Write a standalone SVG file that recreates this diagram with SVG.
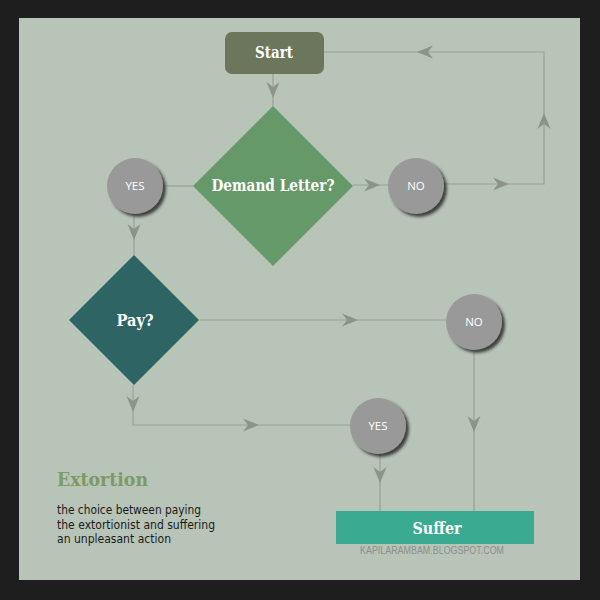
<svg xmlns="http://www.w3.org/2000/svg" xmlns:xlink="http://www.w3.org/1999/xlink" width="600" height="600" viewBox="0 0 600 600">
<style>
.ln{fill:none;stroke:#98a198;stroke-width:1.2}
.ah{fill:#8b938b}
.circ{fill:#999999;filter:url(#sh)}
.ct{font-family:"Open Sans","Liberation Sans",sans-serif;font-size:11.5px;fill:#ffffff;text-anchor:middle}
.bt{font-family:"DejaVu Serif","Liberation Serif",serif;font-weight:bold;fill:#ffffff;text-anchor:middle}
.desc{font-family:"DejaVu Sans","Liberation Sans",sans-serif;font-size:12px;fill:#1a1a1a}
</style>
<defs>
<filter id="sh" x="-30%" y="-30%" width="170%" height="170%">
<feDropShadow dx="3" dy="3" stdDeviation="1.8" flood-color="#2a2a2a" flood-opacity="0.85"/>
</filter>
<path id="arr" class="ah" d="M0,0 L-16,-6.5 L-11,0 L-16,6.5 Z"/>
</defs>
<rect x="0" y="0" width="600" height="600" fill="#1e1e1e"/>
<rect x="19" y="18" width="561" height="562" fill="#b8c4b8"/>
<g id="connectors">
<path class="ln" d="M273,74 V106"/>
<path class="ln" d="M163,186 H193"/>
<path class="ln" d="M353,185 H388"/>
<path class="ln" d="M444,184 H544 V52 H324"/>
<path class="ln" d="M134,214 V255"/>
<path class="ln" d="M200,320 H446"/>
<path class="ln" d="M474,350 V511"/>
<path class="ln" d="M133,385 V425 H350"/>
<path class="ln" d="M380,454 V511"/>
<use xlink:href="#arr" transform="translate(273,98) rotate(90)"/>
<use xlink:href="#arr" transform="translate(380,185)"/>
<use xlink:href="#arr" transform="translate(509,184)"/>
<use xlink:href="#arr" transform="translate(544,113) rotate(-90)"/>
<use xlink:href="#arr" transform="translate(417,52) rotate(180)"/>
<use xlink:href="#arr" transform="translate(134,240) rotate(90)"/>
<use xlink:href="#arr" transform="translate(358,320)"/>
<use xlink:href="#arr" transform="translate(474,432) rotate(90)"/>
<use xlink:href="#arr" transform="translate(133,412) rotate(90)"/>
<use xlink:href="#arr" transform="translate(259,425)"/>
<use xlink:href="#arr" transform="translate(380,483) rotate(90)"/>
</g>
<g id="start">
<rect x="225" y="32" width="99" height="42" rx="7" fill="#6b765d"/>
<text class="bt" x="274" y="58" font-size="16.5" textLength="38" lengthAdjust="spacingAndGlyphs">Start</text>
</g>
<g id="demand">
<polygon points="273,106 353,186 273,266 193,186" fill="#65996a"/>
<text class="bt" x="273" y="191" font-size="16" textLength="123" lengthAdjust="spacingAndGlyphs">Demand Letter?</text>
</g>
<g id="yes1">
<circle class="circ" cx="135" cy="186" r="28"/>
<text class="ct" x="135" y="190">YES</text>
</g>
<g id="no1">
<circle class="circ" cx="416" cy="186" r="28"/>
<text class="ct" x="416" y="190">NO</text>
</g>
<g id="pay">
<polygon points="134,255 199,320 134,385 69,320" fill="#2e6464"/>
<text class="bt" x="135" y="326" font-size="16.5" textLength="37" lengthAdjust="spacingAndGlyphs">Pay?</text>
</g>
<g id="no2">
<circle class="circ" cx="474" cy="322" r="28"/>
<text class="ct" x="474" y="326">NO</text>
</g>
<g id="yes2">
<circle class="circ" cx="378" cy="426" r="28"/>
<text class="ct" x="378" y="430">YES</text>
</g>
<g id="suffer">
<rect x="336" y="511" width="198" height="33" fill="#3aab90"/>
<text class="bt" x="437" y="534" font-size="16.5" textLength="49" lengthAdjust="spacingAndGlyphs">Suffer</text>
</g>
<text x="432" y="554" font-family="'Liberation Sans',Arial,sans-serif" font-size="10" fill="#8a8f8a" text-anchor="middle" textLength="144" lengthAdjust="spacingAndGlyphs">KAPILARAMBAM.BLOGSPOT.COM</text>
<g id="legend">
<text x="57" y="486" font-family="'DejaVu Serif','Liberation Serif',serif" font-weight="bold" font-size="19" fill="#7d9a65" textLength="91" lengthAdjust="spacingAndGlyphs">Extortion</text>
<text class="desc" x="57" y="514" textLength="144" lengthAdjust="spacingAndGlyphs">the choice between paying</text>
<text class="desc" x="57" y="529" textLength="158" lengthAdjust="spacingAndGlyphs">the extortionist and suffering</text>
<text class="desc" x="57" y="543" textLength="114" lengthAdjust="spacingAndGlyphs">an unpleasant action</text>
</g>
</svg>
